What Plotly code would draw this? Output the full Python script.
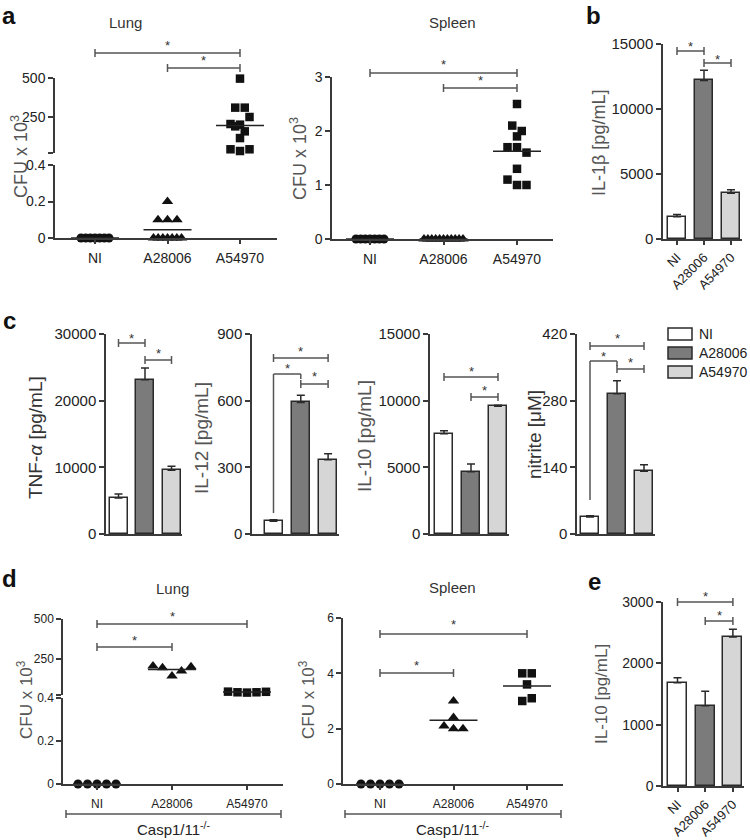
import plotly.graph_objects as go

# ---------------- data ----------------
groups = ["NI", "A28006", "A54970"]

# panel a: CFU x 10^3, individual mice
a_lung_NI = [0, 0, 0, 0, 0, 0, 0]
a_lung_A28006 = [0.2, 0.1, 0.1, 0.1, 0, 0, 0, 0, 0, 0, 0]
a_lung_A54970 = [496, 310, 310, 205, 201, 250, 190, 158, 115, 43, 32, 43]
a_spleen_NI = [0, 0, 0, 0, 0, 0, 0]
a_spleen_A28006 = [0, 0, 0, 0, 0, 0, 0, 0, 0, 0, 0]
a_spleen_A54970 = [2.5, 2.1, 2.0, 1.9, 1.7, 1.7, 1.6, 1.3, 1.1, 1.0, 1.0]

# panel b: IL-1beta (mean, SEM)
b_il1b_mean = [1710, 12200, 3520]
b_il1b_sem = [180, 780, 260]

# panel c
c_tnf_mean = [5400, 23150, 9550]
c_tnf_sem = [600, 1750, 600]
c_il12_mean = [57, 592, 334]
c_il12_sem = [7, 32, 27]
c_il10_mean = [7525, 4675, 9575]
c_il10_sem = [225, 575, 75]
c_nitrite_mean = [35.7, 294.7, 132]
c_nitrite_sem = [2.8, 27, 13.6]

# panel d: Casp1/11-/- CFU x 10^3
d_lung_NI = [0, 0, 0, 0, 0]
d_lung_A28006 = [206, 196, 144, 175, 202]
d_lung_A54970 = [46, 42, 40, 42, 45]
d_spleen_NI = [0, 0, 0, 0, 0]
d_spleen_A28006 = [3.0, 2.4, 2.1, 2.0, 2.0]
d_spleen_A54970 = [4.0, 4.0, 3.6, 3.0, 3.1]

# panel e: IL-10
e_il10_mean = [1682, 1308, 2431]
e_il10_sem = [82, 238, 125]

# tick values
a_lung_low_ticks = [0, 0.2, 0.4]
a_lung_high_ticks = [250, 500]
a_spleen_ticks = [0, 1, 2, 3]
b_ticks = [0, 5000, 10000, 15000]
c_tnf_ticks = [0, 10000, 20000, 30000]
c_il12_ticks = [0, 300, 600, 900]
c_il10_ticks = [0, 5000, 10000, 15000]
c_nitrite_ticks = [0, 140, 280, 420]
d_lung_low_ticks = [0, 0.2, 0.4]
d_lung_high_ticks = [250, 500]
d_spleen_ticks = [0, 2, 4, 6]
e_ticks = [0, 1000, 2000, 3000]

# ---------------- helpers ----------------
W, H = 750, 840
FONT = "Liberation Sans, Arial, sans-serif"
AX = "#3a3a3a"
BAR_COLORS = ["#ffffff", "#7b7b7b", "#d6d6d6"]
BAR_LINE = "#2a2a2a"


def fx(p):
    return p / W


def fy(p):
    return 1 - p / H


fig = go.Figure()
layout = {}
shapes = []
annotations = []
cnt = {"x": 0, "y": 0}


def new_id(k):
    cnt[k] += 1
    n = cnt[k]
    return (f"{k}axis" if n == 1 else f"{k}axis{n}"), (k if n == 1 else f"{k}{n}")


def fmt(v):
    if isinstance(v, float) and not v.is_integer():
        return f"{v:g}"
    return str(int(v))


def make_axes(geom, ysegs, xlabels=None, xticks=True, xangle=0, xfont=13, yfont=13, xstand=0):
    left, right, c0, s = geom
    xname, xr = new_id("x")
    yrefs = []
    for seg in ysegs:
        yname, yr = new_id("y")
        tv = list(seg["tickvals"])
        tt = [fmt(v) for v in tv]
        if seg.get("endtick"):
            tv = [seg["range"][0]] + tv
            tt = [" "] + tt
        layout[yname] = dict(
            domain=[fy(seg["bot"]), fy(seg["top"])], range=seg["range"], anchor=xr,
            tickvals=tv, ticktext=tt, showline=True, linecolor=AX, linewidth=1.5,
            ticks="outside", ticklen=5, tickwidth=1.5, tickcolor=AX,
            showgrid=False, zeroline=False, fixedrange=True, automargin=False,
            tickfont=dict(size=yfont, color="#222", family=FONT),
        )
        yrefs.append(yr)
    lo = -(c0 - left) / s
    hi = 2 + (right - (c0 + 2 * s)) / s
    layout[xname] = dict(
        domain=[fx(left), fx(right)], range=[lo, hi], anchor=yrefs[0],
        tickmode="array", tickvals=[0, 1, 2], ticktext=xlabels if xlabels else [" ", " ", " "],
        showticklabels=bool(xlabels), ticks="outside" if xticks else "",
        ticklen=4, tickwidth=1.5, tickcolor=AX, tickangle=xangle,
        ticklabelstandoff=xstand, automargin=False,
        showline=True, linecolor=AX, linewidth=1.5, showgrid=False, zeroline=False,
        fixedrange=True, tickfont=dict(size=xfont, color="#222", family=FONT),
    )
    return xr, yrefs


def seg_px(seg, v):
    r0, r1 = seg["range"]
    return seg["bot"] - (v - r0) * (seg["bot"] - seg["top"]) / (r1 - r0)


def swarm(ypix, tol):
    order = sorted(range(len(ypix)), key=lambda k: (ypix[k], k))
    rows = []
    for k in order:
        if rows and ypix[k] - ypix[rows[-1][0]] < tol:
            rows[-1].append(k)
        else:
            rows.append([k])
    offs = [0.0] * len(ypix)
    for r in rows:
        r = sorted(r)
        n = len(r)
        step = 9.5 if n <= 5 else max(3.9, 28.0 / (n - 1))
        for j, k in enumerate(r):
            offs[k] = (j - (n - 1) / 2) * step
    return offs


SYMS = [("circle", 9), ("triangle-up", 10), ("square", 8.5)]


def draw_scatter(xr, yrefs, ysegs, geom, data, split=None, tol=9):
    s = geom[3]
    for gi, vals in enumerate(data):
        sym, size = SYMS[gi]
        seg_idx = [0 if (split is None or v <= split) else 1 for v in vals]
        ypix = [seg_px(ysegs[si], v) for v, si in zip(vals, seg_idx)]
        offs = swarm(ypix, tol)
        for si in sorted(set(seg_idx)):
            idx = [k for k in range(len(vals)) if seg_idx[k] == si]
            fig.add_trace(go.Scatter(
                x=[gi + offs[k] / s for k in idx], y=[vals[k] for k in idx],
                xaxis=xr, yaxis=yrefs[si], mode="markers", cliponaxis=False,
                marker=dict(symbol=sym, size=size, color="#111", line=dict(width=0)),
                hoverinfo="skip"))
        m = sum(vals) / len(vals)
        si = 0 if (split is None or m <= split) else 1
        half = 24.0 / s
        fig.add_trace(go.Scatter(
            x=[gi - half, gi + half], y=[m, m], xaxis=xr, yaxis=yrefs[si],
            mode="lines", line=dict(color="#222", width=1.5), cliponaxis=False,
            hoverinfo="skip"))


def draw_bars(xr, yr, geom, means, sems, bw=18):
    s = geom[3]
    fig.add_trace(go.Bar(
        x=[0, 1, 2], y=means, width=bw / s, xaxis=xr, yaxis=yr,
        marker=dict(color=BAR_COLORS, line=dict(color=BAR_LINE, width=1.5)),
        error_y=dict(type="data", symmetric=False, array=sems, arrayminus=[0, 0, 0],
                     color=BAR_LINE, thickness=1.5, width=4),
        hoverinfo="skip"))


LINE = dict(color="#555", width=1.5)


def star(xr, x, y_px, size=13):
    annotations.append(dict(x=x, y=fy(y_px + 3), xref=xr, yref="paper", text="*",
                            showarrow=False, font=dict(size=size, color="#333", family=FONT),
                            xanchor="center", yanchor="middle"))


def bracket(xr, i, j, y_px, star_px, cap=4):
    shapes.append(dict(type="line", xref=xr, yref="paper", x0=i, x1=j,
                       y0=fy(y_px), y1=fy(y_px), line=LINE))
    for xx in (i, j):
        shapes.append(dict(type="line", xref=xr, yref="paper", x0=xx, x1=xx,
                           y0=fy(y_px - cap), y1=fy(y_px + cap), line=LINE))
    star(xr, (i + j) / 2, star_px)


def elbow(xr, i, j, y_px, low_px, star_px, drop=5):
    shapes.append(dict(type="line", xref=xr, yref="paper", x0=i, x1=i,
                       y0=fy(low_px), y1=fy(y_px), line=LINE))
    shapes.append(dict(type="line", xref=xr, yref="paper", x0=i, x1=j,
                       y0=fy(y_px), y1=fy(y_px), line=LINE))
    shapes.append(dict(type="line", xref=xr, yref="paper", x0=j, x1=j,
                       y0=fy(y_px), y1=fy(y_px + drop), line=LINE))
    star(xr, (i + j) / 2, star_px)


def text(x_px, y_px, t, size, color="#222", angle=0, bold=False, xanchor="center"):
    if bold:
        t = f"<b>{t}</b>"
    annotations.append(dict(x=fx(x_px), y=fy(y_px), xref="paper", yref="paper", text=t,
                            showarrow=False, textangle=angle, xanchor=xanchor, yanchor="middle",
                            font=dict(size=size, color=color, family=FONT)))


def group_bar(x0, x1, y_px, label, label_y):
    shapes.append(dict(type="line", xref="paper", yref="paper", x0=fx(x0), x1=fx(x1),
                       y0=fy(y_px), y1=fy(y_px), line=LINE))
    for xx in (x0, x1):
        shapes.append(dict(type="line", xref="paper", yref="paper", x0=fx(xx), x1=fx(xx),
                           y0=fy(y_px - 4), y1=fy(y_px + 4), line=LINE))
    text((x0 + x1) / 2, label_y, label, 15, "#222")


CFU = "CFU x 10<sup>3</sup>"
TITLE_C = "#555"

# ---------------- panel a ----------------
g = (55, 277, 95, 72.5)
segs = [dict(top=165, bot=238, range=[0, 0.4], tickvals=a_lung_low_ticks),
        dict(top=78, bot=153, range=[500 - 75 * 250 / 39, 500], tickvals=a_lung_high_ticks, endtick=True)]
xr, yrs = make_axes(g, segs, xlabels=groups, xfont=14, yfont=14, xstand=2)
draw_scatter(xr, yrs, segs, g, [a_lung_NI, a_lung_A28006, a_lung_A54970], split=0.4, tol=9)
bracket(xr, 0, 2, 53, 42)
bracket(xr, 1, 2, 68, 58)
text(125, 22, "Lung", 15, "#333")
text(19, 157, CFU, 18, TITLE_C, angle=-90)

g = (332, 553, 370, 73.5)
segs = [dict(top=77, bot=239, range=[0, 3], tickvals=a_spleen_ticks)]
xr, yrs = make_axes(g, segs, xlabels=groups, xfont=14, yfont=14, xstand=2)
draw_scatter(xr, yrs, segs, g, [a_spleen_NI, a_spleen_A28006, a_spleen_A54970], tol=9)
bracket(xr, 0, 2, 73, 62)
bracket(xr, 1, 2, 88, 78)
text(452, 22, "Spleen", 15, "#333")
text(298, 159, CFU, 18, TITLE_C, angle=-90)

# ---------------- panel b ----------------
g = (663, 742, 677, 27)
segs = [dict(top=44, bot=239, range=[0, 15000], tickvals=b_ticks)]
xr, yrs = make_axes(g, segs, xlabels=groups, xangle=-45, xfont=13, yfont=15)
draw_bars(xr, yrs[0], g, b_il1b_mean, b_il1b_sem)
bracket(xr, 0, 1, 51, 43)
bracket(xr, 1, 2, 63, 57)
text(599, 143, "IL-1β [pg/mL]", 18, TITLE_C, angle=-90)

# ---------------- panel c ----------------
c_specs = [
    ((106, 182, 118.5, 26.5), c_tnf_ticks, c_tnf_mean, c_tnf_sem, "TNF-<i>α</i> [pg/mL]", 35, 438, "#333"),
    ((252, 339, 273.5, 27.3), c_il12_ticks, c_il12_mean, c_il12_sem, "IL-12 [pg/mL]", 201, 438, TITLE_C),
    ((430, 509, 444, 27), c_il10_ticks, c_il10_mean, c_il10_sem, "IL-10 [pg/mL]", 364, 436, TITLE_C),
    ((577, 655, 590, 27), c_nitrite_ticks, c_nitrite_mean, c_nitrite_sem, "nitrite [μM]", 534, 435, "#333"),
]
c_refs = []
for g, ticks, mean, sem, title, tx, ty, tc in c_specs:
    segs = [dict(top=334, bot=534, range=[0, ticks[-1]], tickvals=ticks)]
    xr, yrs = make_axes(g, segs, xlabels=None, xticks=False, yfont=15)
    draw_bars(xr, yrs[0], g, mean, sem, bw=18)
    text(tx, ty, title, 19, tc, angle=-90)
    c_refs.append(xr)

bracket(c_refs[0], 0, 1, 343, 335)
bracket(c_refs[0], 1, 2, 360, 350)
bracket(c_refs[1], 0, 2, 358, 348)
elbow(c_refs[1], 0, 1, 374, 513, 365)
bracket(c_refs[1], 1, 2, 384, 374)
bracket(c_refs[2], 0, 2, 377, 368)
bracket(c_refs[2], 1, 2, 397, 387)
bracket(c_refs[3], 0, 2, 346, 335)
elbow(c_refs[3], 0, 1, 361, 500, 353)
bracket(c_refs[3], 1, 2, 369, 359)

# legend
leg_rows = [(334, 0), (353, 1), (372, 2)]
for yc, gi in leg_rows:
    shapes.append(dict(type="rect", xref="paper", yref="paper", x0=fx(668), x1=fx(692),
                       y0=fy(yc + 6), y1=fy(yc - 6), fillcolor=BAR_COLORS[gi],
                       line=dict(color=BAR_LINE, width=1.5)))
    text(697, yc, groups[gi], 14, "#222", xanchor="left")

# ---------------- panel d ----------------
g = (63, 283, 97, 75)
segs = [dict(top=698, bot=784, range=[0, 0.4], tickvals=d_lung_low_ticks),
        dict(top=619, bot=695, range=[500 - 76 * 250 / 40, 500], tickvals=d_lung_high_ticks, endtick=True)]
xr, yrs = make_axes(g, segs, xlabels=groups, xfont=12, yfont=12, xstand=4)
draw_scatter(xr, yrs, segs, g, [d_lung_NI, d_lung_A28006, d_lung_A54970], split=0.4, tol=11)
bracket(xr, 0, 2, 624, 613)
bracket(xr, 0, 1, 647, 637)
text(172, 588, "Lung", 15, "#333")
text(25, 700, CFU, 17, TITLE_C, angle=-90)
group_bar(66, 281, 814, "Casp1/11<sup>-/-</sup>", 828)

g = (343, 563, 380, 73.5)
segs = [dict(top=618, bot=784, range=[0, 6], tickvals=d_spleen_ticks)]
xr, yrs = make_axes(g, segs, xlabels=groups, xfont=12, yfont=12, xstand=4)
draw_scatter(xr, yrs, segs, g, [d_spleen_NI, d_spleen_A28006, d_spleen_A54970], tol=8)
bracket(xr, 0, 2, 634, 621)
bracket(xr, 0, 1, 673, 662)
text(452, 587, "Spleen", 15, "#333")
text(307, 700, CFU, 17, TITLE_C, angle=-90)
group_bar(345, 561, 814, "Casp1/11<sup>-/-</sup>", 828)

# ---------------- panel e ----------------
g = (663, 744, 677.5, 27.7)
segs = [dict(top=602, bot=786, range=[0, 3000], tickvals=e_ticks)]
xr, yrs = make_axes(g, segs, xlabels=groups, xangle=-45, xfont=13, yfont=14)
draw_bars(xr, yrs[0], g, e_il10_mean, e_il10_sem, bw=19)
bracket(xr, 0, 2, 602, 593)
bracket(xr, 1, 2, 621, 612)
text(601, 694, "IL-10 [pg/mL]", 17, TITLE_C, angle=-90)

# panel letters
for lt, x, y in [("a", 9, 15), ("b", 593, 15), ("c", 9, 320), ("d", 9, 578), ("e", 594, 581)]:
    text(x, y, lt, 24, "#111", bold=True)

layout.update(dict(
    width=W, height=H, margin=dict(l=0, r=0, t=0, b=0, pad=0, autoexpand=False),
    paper_bgcolor="white", plot_bgcolor="rgba(0,0,0,0)", showlegend=False,
    font=dict(family=FONT, color="#222"), bargap=0,
    shapes=shapes, annotations=annotations,
))
fig.update_layout(**layout)
fig.write_html(
    "out.html",
    config={"displayModeBar": False},
    post_script="document.documentElement.style.overflow='hidden';"
                "document.body.style.margin='0';document.body.style.overflow='hidden';",
)
